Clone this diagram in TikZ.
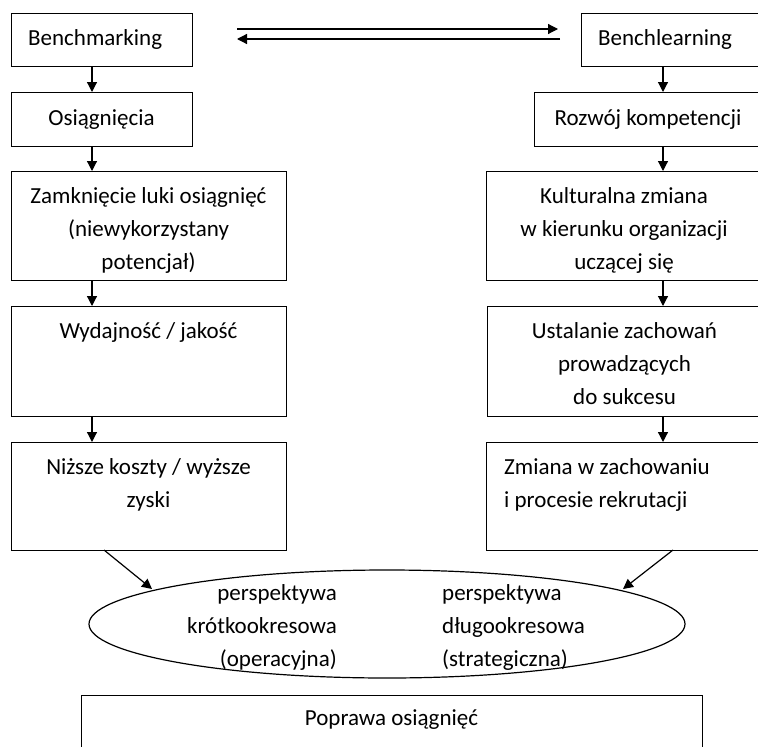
\documentclass[tikz,border=0pt]{standalone}
\usepackage{fontspec}
\setmainfont{Carlito}
\usetikzlibrary{arrows.meta,shapes.geometric}
\tikzset{
  box/.style={draw, line width=1.2pt, rectangle, inner sep=0pt, anchor=north west},
  txt/.style={inner sep=0pt, font=\fontsize{23}{33}\selectfont},
  arr/.style={line width=1.2pt, -{Triangle[length=10pt,width=10pt]}},
  conn/.style={line width=1.2pt},
}
\newcommand{\bx}[5]{\node[box, minimum width=#4pt-#2pt, minimum height=#5pt-#3pt] (#1) at (#2,#3) {};}
\newcommand{\fs}{\rule{0pt}{18pt}}
\begin{document}
\begin{tikzpicture}[x=1pt,y=-1pt]
\useasboundingbox (0,0) rectangle (758,747);
% left column
\bx{b1}{11}{13}{192}{66}
\bx{b2}{11}{92}{192}{146}
\bx{b3}{11}{171}{286}{280}
\bx{b4}{11}{306}{286}{416}
\bx{b5}{11}{442}{286}{550}
% right column
\bx{r1}{581}{13}{762}{66}
\bx{r2}{534}{92}{762}{146}
\bx{r3}{486}{171}{762}{280}
\bx{r4}{487}{306}{762}{416}
\bx{r5}{486}{442}{762}{550}
% bottom
\bx{bot}{81}{695}{702}{775}
% ellipse
\node[draw, line width=1.2pt, ellipse, inner sep=0pt, minimum width=596pt, minimum height=108pt] (ell) at (387,624) {};

% texts
\node[txt, anchor=north west] (tb1) at (28,27) {\fs Benchmarking};
\node[txt, anchor=north] (tb2) at (101.5,107) {\fs Osiągnięcia};
\node[txt, anchor=north, align=center] (tb3) at (148.5,185) {\fs Zamknięcie luki osiągnięć\\(niewykorzystany\\potencjał)};
\node[txt, anchor=north] (tb4) at (148.5,320) {\fs Wydajność / jakość};
\node[txt, anchor=north, align=center] (tb5) at (148.5,456) {\fs Niższe koszty / wyższe\\zyski};

\node[txt, anchor=north west] (tr1) at (598,27) {\fs Benchlearning};
\node[txt, anchor=north] (tr2) at (648,107) {\fs Rozwój kompetencji};
\node[txt, anchor=north, align=center] (tr3) at (624,185) {\fs Kulturalna zmiana\\w kierunku organizacji\\uczącej się};
\node[txt, anchor=north, align=center] (tr4) at (624.5,320) {\fs Ustalanie zachowań\\prowadzących\\do sukcesu};
\node[txt, anchor=north west, align=left] (tr5) at (504,456) {\fs Zmiana w zachowaniu\\i procesie rekrutacji};

\node[txt, anchor=north east, align=right] (te1) at (337,582) {\fs perspektywa\\krótkookresowa\\(operacyjna)};
\node[txt, anchor=north west, align=left] (te2) at (442,582) {\fs perspektywa\\długookresowa\\(strategiczna)};
\node[txt, anchor=north] (tbot) at (391.5,707) {\fs Poprawa osiągnięć};

% vertical arrows
\coordinate (L) at (92,0);
\coordinate (R) at (663,0);
\draw[arr] (b1.south -| L) -- (b2.north -| L);
\draw[arr] (b2.south -| L) -- (b3.north -| L);
\draw[arr] (b3.south -| L) -- (b4.north -| L);
\draw[arr] (b4.south -| L) -- (b5.north -| L);
\draw[arr] (r1.south -| R) -- (r2.north -| R);
\draw[arr] (r2.south -| R) -- (r3.north -| R);
\draw[arr] (r3.south -| R) -- (r4.north -| R);
\draw[arr] (r4.south -| R) -- (r5.north -| R);

% top double arrows
\coordinate (a1s) at (237,29);
\coordinate (a1e) at (558,29);
\coordinate (a2s) at (560,39);
\coordinate (a2e) at (237,39);
\draw[arr] (a1s) -- (a1e);
\draw[arr] (a2s) -- (a2e);

% diagonal arrows to ellipse
\coordinate (d1s) at (104,550);
\coordinate (d1e) at (152,589);
\coordinate (d2s) at (673,550);
\coordinate (d2e) at (623,589);
\draw[arr] (d1s) -- (d1e);
\draw[arr] (d2s) -- (d2e);
\end{tikzpicture}
\end{document}
